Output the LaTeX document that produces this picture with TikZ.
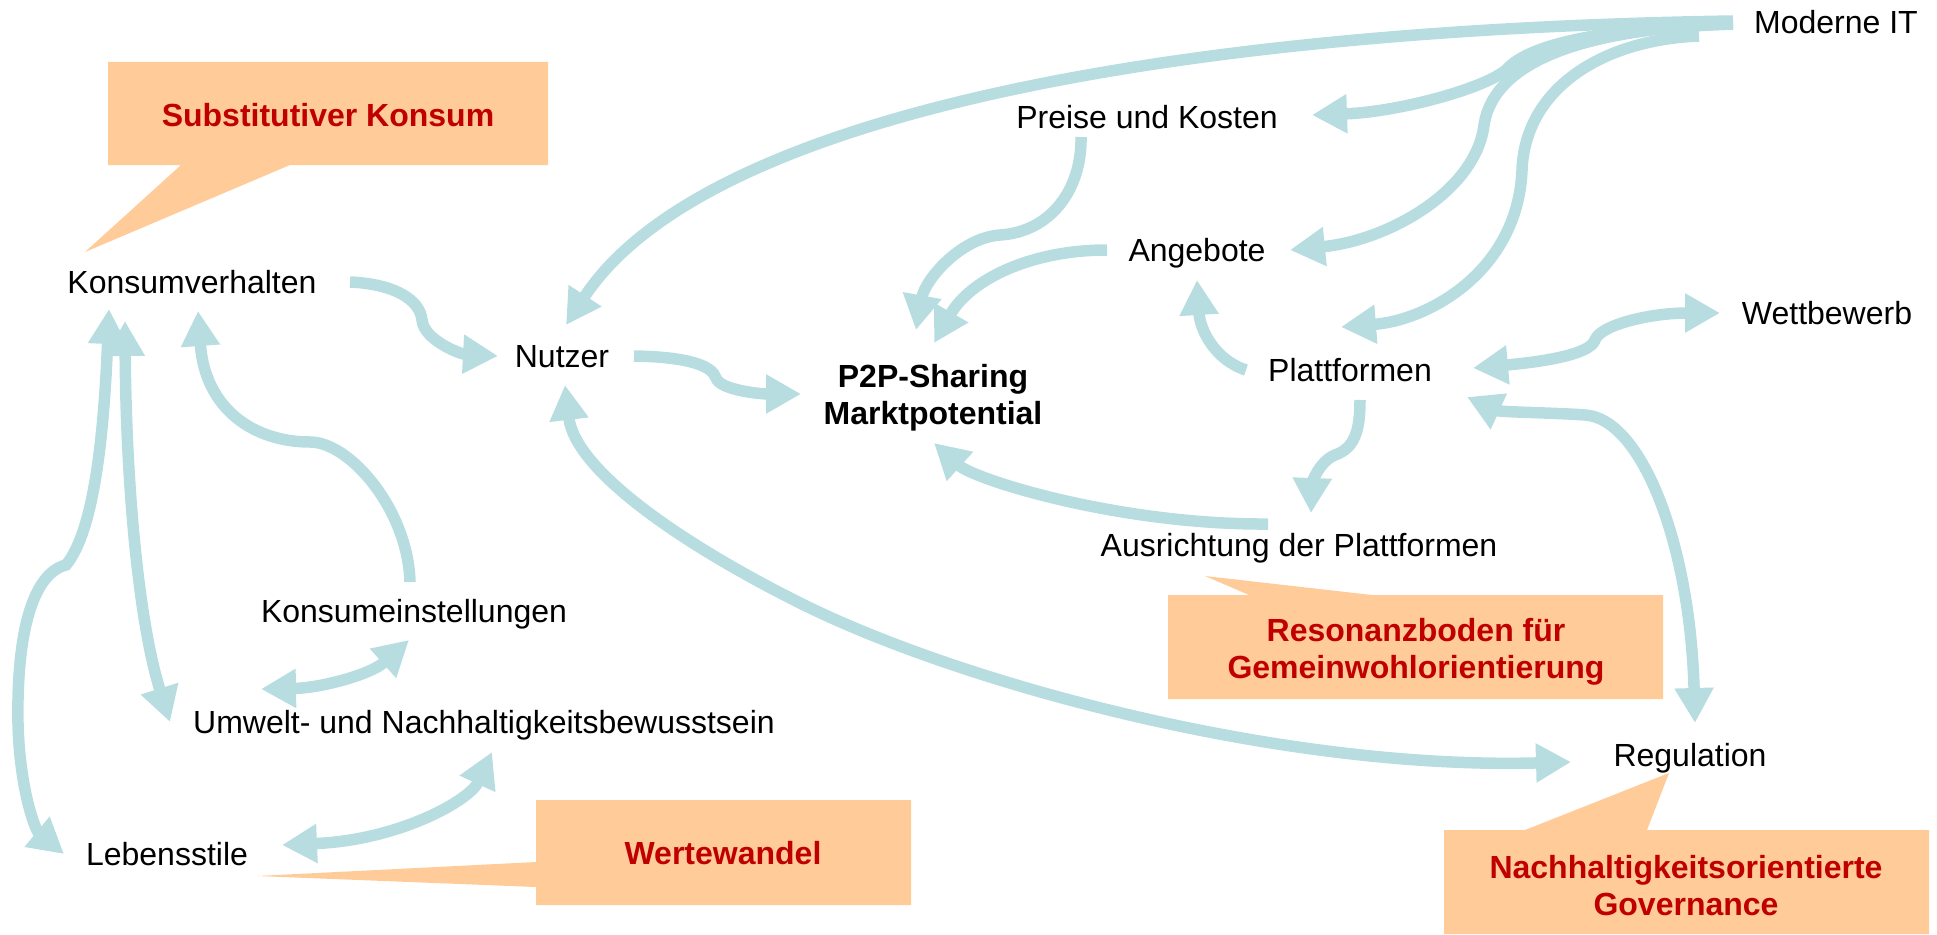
\documentclass[tikz,border=0pt]{standalone}
\usepackage{fontspec}
\setmainfont{Liberation Sans}
\usetikzlibrary{arrows.meta}
\definecolor{linkc}{HTML}{B7DDE0}
\definecolor{callc}{HTML}{FFCC99}
\definecolor{redc}{HTML}{C00000}
\begin{document}
\begin{tikzpicture}[x=1pt,y=-1pt,
  >={Triangle[length=35pt,width=37pt]},
  link/.style={draw=linkc, line width=11.5pt},
  lbl/.style={inner sep=0pt, text height=23pt, text depth=0pt, font=\fontsize{32}{37}\selectfont},
  hot/.style={inner sep=0pt, align=center, text=redc, font=\fontsize{32}{37}\selectfont\bfseries},
  bubble/.style={fill=callc, draw=none}]
\useasboundingbox (0,0) rectangle (1937,934);

% callout shapes
\fill[bubble] (108,62) -- (548,62) -- (548,165) -- (290,165) -- (85,252) -- (181,165) -- (108,165) -- cycle;
\fill[bubble] (1168,595) -- (1249,595) -- (1205,576) -- (1372,595) -- (1663,595) -- (1663,699) -- (1168,699) -- cycle;
\fill[bubble] (1444,830) -- (1525,830) -- (1669,773) -- (1647,830) -- (1929,830) -- (1929,934) -- (1444,934) -- cycle;
\fill[bubble] (536,800) -- (911,800) -- (911,905) -- (536,905) -- (536,887) -- (257,876) -- (536,862) -- cycle;

% callout texts
\node[hot] (cSub) at (328,115) {Substitutiver Konsum};
\node[hot] (cRes) at (1416,652) {Resonanzboden für\\Gemeinwohlorientierung};
\node[hot] (cGov) at (1686,886) {Nachhaltigkeitsorientierte\\Governance};
\node[hot] (cWert) at (723,853) {Wertewandel};

% labels
\node[lbl] (knv) at (192,282) {Konsumverhalten};
\node[lbl] (nutzer) at (562,356) {Nutzer};
\node[hot,text=black] (p2p) at (933,398) {P2P-Sharing\\Marktpotential};
\node[lbl] (preise) at (1147,117) {Preise und Kosten};
\node[lbl] (angebote) at (1197,250) {Angebote};
\node[lbl] (modit) at (1836,22) {Moderne IT};
\node[lbl] (wett) at (1827,313) {Wettbewerb};
\node[lbl] (platt) at (1350,370) {Plattformen};
\node[lbl] (ausr) at (1299,545) {Ausrichtung der Plattformen};
\node[lbl] (kein) at (414,611) {Konsumeinstellungen};
\node[lbl] (umw) at (484,722) {Umwelt- und Nachhaltigkeitsbewusstsein};
\node[lbl] (leb) at (167,854) {Lebensstile};
\node[lbl] (reg) at (1690,755) {Regulation};

% connectors
\draw[link,->] ([shift={(-103,-1)}]modit.center) .. controls (1150,30) and (700,120) .. ([shift={(4,-31)}]nutzer.center);
\draw[link,->] ([shift={(-103,2)}]modit.center) .. controls (1600,28) and (1530,45) .. (1508,68) .. controls (1490,87) and (1400,112) .. ([shift={(165,-2)}]preise.center);
\draw[link,->] ([shift={(-103,2)}]modit.center) .. controls (1600,28) and (1495,55) .. (1484,125) .. controls (1476,190) and (1390,240) .. ([shift={(93,0)}]angebote.center);
\draw[link,->] ([shift={(-137,14)}]modit.center) .. controls (1600,40) and (1525,90) .. (1522,170) .. controls (1518,270) and (1430,320) .. ([shift={(-9,-43)}]platt.center);
\draw[link,->] ([shift={(-66,20)}]preise.center) .. controls (1082,190) and (1050,232) .. (1000,235) .. controls (960,238) and (925,280) .. ([shift={(-17,-68)}]p2p.center);
\draw[link,->] ([shift={(-90,0)}]angebote.center) .. controls (1030,250) and (970,280) .. ([shift={(1,-55)}]p2p.center);
\draw[link,->] ([shift={(72,0)}]nutzer.center) .. controls (690,357) and (712,366) .. (716,378) .. controls (720,390) and (760,394) .. ([shift={(-132,-4)}]p2p.center);
\draw[link,->] ([shift={(158,0)}]knv.center) .. controls (395,284) and (420,300) .. (422,320) .. controls (424,340) and (460,354) .. ([shift={(-64,0)}]nutzer.center);
\draw[link,->] ([shift={(-104,0)}]platt.center) .. controls (1215,360) and (1200,330) .. ([shift={(0,30)}]angebote.center);
\draw[link,<->] ([shift={(123,-2)}]platt.center) .. controls (1540,362) and (1590,355) .. (1595,340) .. controls (1600,325) and (1650,313) .. ([shift={(-107,0)}]wett.center);
\draw[link,->] ([shift={(10,30)}]platt.center) .. controls (1360,430) and (1355,448) .. (1335,455) .. controls (1318,462) and (1312,485) .. ([shift={(12,-32)}]ausr.center);
\draw[link,<->] ([shift={(117,27)}]platt.center) .. controls (1500,412) and (1560,413) .. (1585,415) .. controls (1640,418) and (1690,540) .. ([shift={(5,-32)}]reg.center);
\draw[link,->] ([shift={(-31,-21)}]ausr.center) .. controls (1120,525) and (975,480) .. ([shift={(1,45)}]p2p.center);
\draw[link,<->] ([shift={(3,29)}]nutzer.center) .. controls (575,470) and (680,543) .. (800,603) .. controls (960,683) and (1280,770) .. ([shift={(-119,7)}]reg.center);
\draw[link,->] ([shift={(-4,-29)}]kein.center) .. controls (408,510) and (350,442) .. (310,442) .. controls (255,442) and (205,410) .. ([shift={(6,29)}]knv.center);
\draw[link,<->] ([shift={(-83,27)}]knv.center) .. controls (104,430) and (95,530) .. (66,565) .. controls (45,570) and (20,600) .. (18,700) .. controls (16,780) and (35,830) .. ([shift={(-103,0)}]leb.center);
\draw[link,<->] ([shift={(-67,39)}]knv.center) .. controls (126,480) and (138,620) .. ([shift={(-314,0)}]umw.center);
\draw[link,<->] ([shift={(-5,29)}]kein.center) .. controls (370,675) and (320,688) .. ([shift={(-223,-33)}]umw.center);
\draw[link,<->] ([shift={(8,30)}]umw.center) .. controls (470,800) and (400,840) .. ([shift={(115,-9)}]leb.center);
\end{tikzpicture}
\end{document}
